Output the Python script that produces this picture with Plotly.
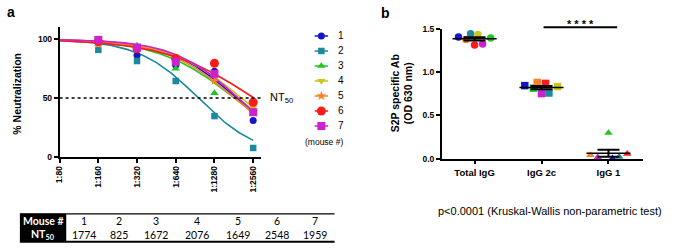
import numpy as np
import plotly.graph_objects as go

# ---------------- data ----------------
dilutions = [80, 160, 320, 640, 1280, 2560]
dilution_labels = ["1:80", "1:160", "1:320", "1:640", "1:1280", "1:2560"]
mice = ["1", "2", "3", "4", "5", "6", "7"]

neut_m1 = [100, 97.5, 86.5, 78.0, 72.8, 31.0]
neut_m2 = [95.5, 91.0, 81.5, 64.5, 34.7, 7.6]
neut_m3 = [98.0, 96.0, 94.6, 75.0, 54.3, 40.8]
neut_m4 = [99.0, 99.0, 93.0, 80.0, 71.0, 42.0]
neut_m5 = [99.0, 96.0, 91.6, 81.5, 64.7, 38.0]
neut_m6 = [100, 98.0, 92.0, 83.7, 79.6, 46.5]
neut_m7 = [100, 99.5, 93.0, 81.0, 70.6, 38.0]

# fitted dose-response curve parameters
fit_ec50 = [1902, 961, 1835, 2080, 1838, 2600, 1965]
fit_hill = [1.65, 1.85, 1.47, 1.55, 1.60, 1.24, 1.69]

nt50 = ["1774", "825", "1672", "2076", "1649", "2548", "1959"]

groups = ["Total IgG", "IgG 2c", "IgG 1"]
od_total = [1.408, 1.444, 1.396, 1.437, 1.378, 1.314, 1.326]
od_igg2c = [0.844, 0.759, 0.815, 0.833, 0.881, 0.870, 0.752]
od_igg1 = [0.002, 0.020, 0.296, -0.005, 0.041, 0.055, 0.015]

# ---------------- styles ----------------
colors = ["#1414C8", "#1B8A9E", "#22C822", "#C8C81E", "#FF7F27", "#FF1A1A", "#CC22CC"]
symbols_a = ["circle", "square", "triangle-up", "triangle-down", "star", "circle", "square"]
sizes_a = [7, 6.5, 7.5, 7.5, 7.5, 9, 8]
symbols_b = ["circle", "square", "triangle-up"]
# horizontal spread of overlapping dots in the scatter-dot plot (layout only)
spread = [
    [-0.24, -0.06, 0.24, 0.05, -0.13, 0.0, 0.12],
    [-0.25, 0.11, -0.12, 0.24, -0.064, 0.06, 0.0],
    [0.06, 0.16, 0.0, -0.05, -0.27, 0.28, -0.16],
]
# table column centres (pixels, layout only)
table_col_x = [79.3, 114.5, 152.5, 193, 234.5, 274, 312]

FONT = "Liberation Sans"
TFONT = "Lato"
W, H = 682, 248


def px(x):
    return x / W


def py(y):
    return 1 - y / H


neut = [neut_m1, neut_m2, neut_m3, neut_m4, neut_m5, neut_m6, neut_m7]
od = [od_total, od_igg2c, od_igg1]

fig = go.Figure()

# ---------------- panel a ----------------
xfit = np.geomspace(dilutions[0], dilutions[-1], 120)
for i in range(len(mice)):
    yfit = 100.0 / (1.0 + (xfit / fit_ec50[i]) ** fit_hill[i])
    fig.add_trace(go.Scatter(x=xfit, y=yfit, mode="lines",
                             line=dict(color=colors[i], width=1.6),
                             xaxis="x", yaxis="y", hoverinfo="skip"))
for i in range(len(mice)):
    fig.add_trace(go.Scatter(x=dilutions, y=neut[i], mode="markers",
                             marker=dict(color=colors[i], symbol=symbols_a[i], size=sizes_a[i],
                                         line=dict(width=0)),
                             cliponaxis=False, xaxis="x", yaxis="y", name=mice[i]))

# manual legend: a line segment and a marker per mouse
for i in range(len(mice)):
    fig.add_trace(go.Scatter(x=[0, 1], y=[i + 1] * 2, mode="lines",
                             line=dict(color=colors[i], width=1.6),
                             xaxis="x3", yaxis="y3", hoverinfo="skip"))
    fig.add_trace(go.Scatter(x=[0.5], y=[i + 1], mode="markers",
                             marker=dict(color=colors[i], symbol=symbols_a[i],
                                         size=sizes_a[i], line=dict(width=0)),
                             cliponaxis=False, xaxis="x3", yaxis="y3", hoverinfo="skip"))

# ---------------- panel b ----------------
for g in range(len(groups)):
    xs = [g + s for s in spread[g]]
    fig.add_trace(go.Scatter(x=xs, y=od[g], mode="markers",
                             marker=dict(color=colors, symbol=symbols_b[g], size=7.5,
                                         line=dict(width=0)),
                             cliponaxis=False, xaxis="x2", yaxis="y2"))
    vals = np.array(od[g])
    mean = vals.mean()
    sem = vals.std(ddof=1) / np.sqrt(len(vals))
    fig.add_trace(go.Scatter(x=[g - 0.33, g + 0.33], y=[mean, mean], mode="lines",
                             line=dict(color="black", width=1.6), cliponaxis=False,
                             xaxis="x2", yaxis="y2", hoverinfo="skip"))
    fig.add_trace(go.Scatter(x=[g], y=[mean], mode="markers",
                             marker=dict(color="black", size=2),
                             error_y=dict(type="data", array=[sem], color="black",
                                          thickness=2, width=11),
                             cliponaxis=False, xaxis="x2", yaxis="y2", hoverinfo="skip"))

tick_font = dict(family=FONT, size=8.5, color="black", weight="bold")

fig.update_layout(
    width=W, height=H, autosize=False,
    margin=dict(l=0, r=0, t=0, b=0),
    paper_bgcolor="white", plot_bgcolor="white",
    showlegend=False,
    font=dict(family=FONT, color="black"),
    xaxis=dict(domain=[px(55), px(258)], anchor="y", type="log",
               range=[np.log10(80), np.log10(2560) + 0.0617],
               tickmode="array", tickvals=dilutions, ticktext=dilution_labels, tickangle=-90,
               showline=True, linecolor="black", linewidth=1.6,
               ticks="outside", ticklen=4, tickwidth=1.6, tickcolor="black",
               showgrid=False, zeroline=False, tickfont=dict(tick_font, size=8.5)),
    yaxis=dict(domain=[py(158.3), py(22.7)], anchor="x", range=[0, 110.6],
               tickvals=[0, 50, 100],
               showline=True, linecolor="black", linewidth=1.6,
               ticks="outside", ticklen=4, tickwidth=1.6, tickcolor="black",
               showgrid=False, zeroline=False, tickfont=tick_font),
    xaxis2=dict(domain=[px(440), px(643)], anchor="y2", range=[-0.49, 2.52],
                tickvals=[0, 1, 2], ticktext=groups,
                showline=True, linecolor="black", linewidth=1.6,
                ticks="outside", ticklen=4, tickwidth=1.6, tickcolor="black",
                showgrid=False, zeroline=False, tickfont=dict(tick_font, size=9.5)),
    yaxis2=dict(domain=[py(160), py(25)], anchor="x2", range=[0, 1.5],
                tickvals=[0, 0.5, 1.0, 1.5], tickformat=".1f",
                showline=True, linecolor="black", linewidth=1.6,
                ticks="outside", ticklen=4, tickwidth=1.6, tickcolor="black",
                showgrid=False, zeroline=False, tickfont=tick_font),
    xaxis3=dict(domain=[px(311.7), px(325.7)], anchor="y3", range=[0, 1], visible=False),
    yaxis3=dict(domain=[py(133.9), py(24.45)], anchor="x3", range=[7.5, 0.5], visible=False),
)

# dotted NT50 line
fig.add_shape(type="line", xref="x domain", yref="y", x0=0, x1=1, y0=50, y1=50,
              line=dict(color="black", width=1.5, dash="dot"))
# significance bar
fig.add_shape(type="line", xref="x2", yref="paper", x0=1.03, x1=2.13, y0=py(23.3), y1=py(23.3),
              line=dict(color="black", width=2))
# table: header column box and borders
fig.add_shape(type="rect", xref="paper", yref="paper", x0=px(15), x1=px(61.7),
              y0=py(246.8), y1=py(217.6), line=dict(width=0), fillcolor="black", layer="below")
fig.add_shape(type="line", xref="paper", yref="paper", x0=px(15), x1=px(332),
              y0=py(217.6), y1=py(217.6), line=dict(color="black", width=1.2))
fig.add_shape(type="line", xref="paper", yref="paper", x0=px(15), x1=px(332),
              y0=py(246.8), y1=py(246.8), line=dict(color="black", width=2))

ann = []


def add_text(text, x, y, size, xref="paper", yref="paper", xanchor="center", angle=0,
             color="black", family=FONT, xshift=0):
    ann.append(dict(text=text, x=x, y=y, xref=xref, yref=yref, xanchor=xanchor,
                    yanchor="middle", textangle=angle, showarrow=False, xshift=xshift,
                    font=dict(size=size, color=color, family=family)))


add_text("<b>a</b>", px(0), py(7), 14, xanchor="left")
add_text("<b>b</b>", px(377), py(8), 14, xanchor="left")
add_text("<b>% Neutralization</b>", px(12), py(92.5), 10.5, angle=-90)
add_text("NT<sub>50</sub>", px(265), 50, 11, yref="y", xanchor="left")
for i in range(len(mice)):
    add_text(mice[i], 1, i + 1, 10, xref="x3", yref="y3", xanchor="left", xshift=8)
add_text("(mouse #)", px(300), py(142.5), 8.5, xanchor="left")
add_text("<b>S2P specific Ab<br>(OD 630 nm)</b>", px(400), py(92), 10.5, angle=-90)
add_text("<b>* * * *</b>", 1.58, py(19.5), 11, xref="x2")
add_text("p<0.0001 (Kruskal-Wallis non-parametric test)", px(549), py(215), 11)
# table text
add_text("<b>Mouse #</b>", px(38.3), py(225.5), 10.5, color="white", family=TFONT)
add_text("<b>NT<sub>50</sub></b>", px(38.3), py(240), 10.5, color="white", family=TFONT)
for i in range(len(mice)):
    add_text(mice[i], px(table_col_x[i]), py(225.5), 10.5, family=TFONT)
    add_text(nt50[i], px(table_col_x[i]), py(240), 10.5, family=TFONT)
fig.update_layout(annotations=ann)

fig.write_html("out.html", config={"displayModeBar": False},
               post_script="document.body.style.margin='0';")
